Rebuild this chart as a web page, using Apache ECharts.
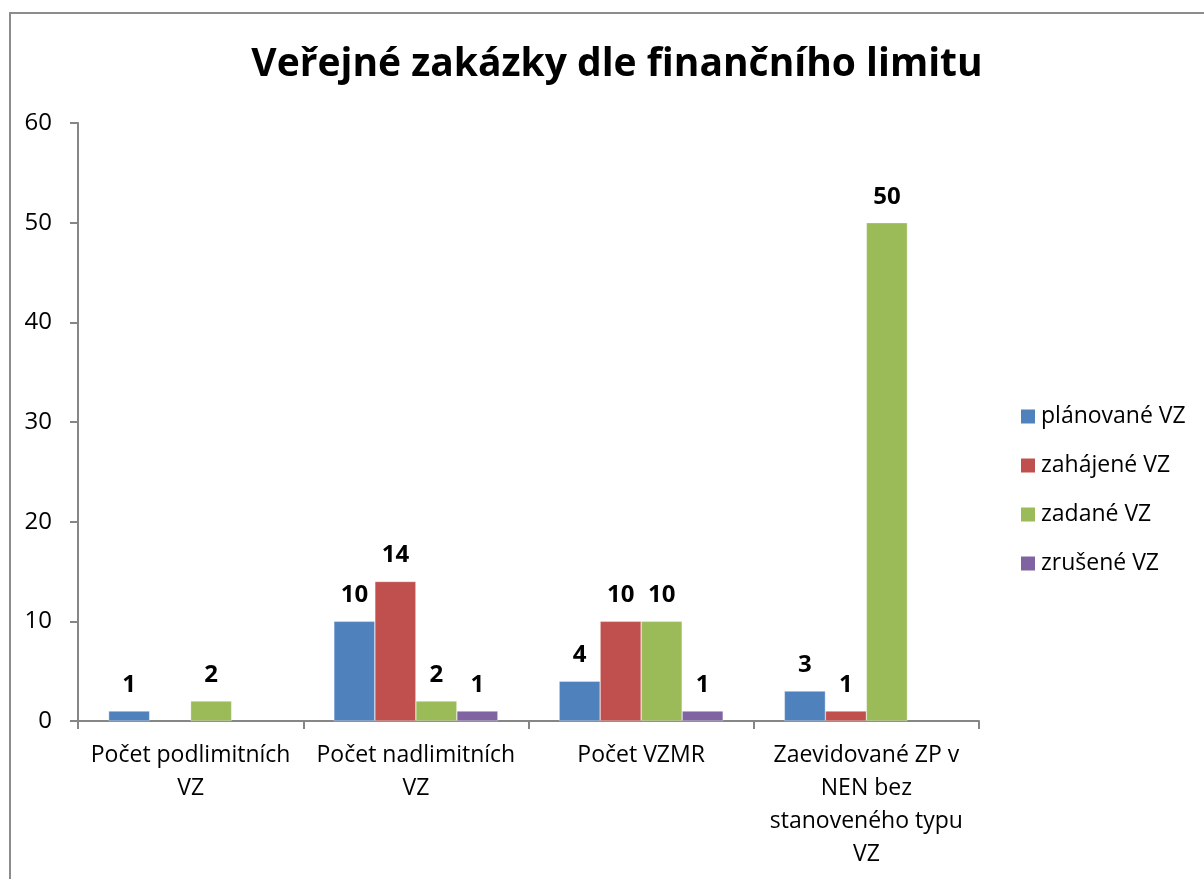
<!DOCTYPE html>
<html>
<head>
<meta charset="utf-8">
<script src="https://cdn.jsdelivr.net/npm/echarts@6/dist/echarts.min.js"></script>
<style>
  html, body { margin: 0; padding: 0; background: #fff; }
  #frame {
    position: absolute; left: 9px; top: 12px;
    width: 1220px; height: 900px;
    border: 2px solid #8c8c8c;
    pointer-events: none;
  }
  #chart { position: absolute; left: 0; top: 0; width: 1204px; height: 879px; }
</style>
</head>
<body>
<div id="frame"></div>
<div id="chart"></div>
<script>
// kategorie (popisky osy x, zalomené jako v originále)
const categories = [
  'Počet podlimitních\nVZ',
  'Počet nadlimitních\nVZ',
  'Počet VZMR',
  'Zaevidované ZP v\nNEN bez\nstanoveného typu\nVZ',
];
const seriesNames = ['plánované VZ', 'zahájené VZ', 'zadané VZ', 'zrušené VZ'];
const planovane = [1, 10, 4, 3];
const zahajene = [null, 14, 10, 1];
const zadane = [2, 2, 10, 50];
const zrusene = [null, 1, 1, null];
const colors = ['#4F81BD', '#C0504D', '#9BBB59', '#8064A2'];

const font = '"Open Sans", "Noto Sans", sans-serif';
const myChart = echarts.init(document.getElementById('chart'));

const series = [planovane, zahajene, zadane, zrusene].map((data, i) => ({
  name: seriesNames[i],
  type: 'bar',
  data,
  barWidth: 41,
  barGap: '0%',
  itemStyle: {
    color: colors[i],
    borderColor: 'rgba(255,255,255,0.7)',
    borderWidth: 0.5,
  },
  label: {
    show: true,
    position: 'top',
    distance: 14,
    color: '#000',
    fontFamily: font,
    fontWeight: 'bold',
    fontSize: 24,
  },
}));

const option = {
  animation: false,
  color: colors,
  title: {
    text: 'Veřejné zakázky dle finančního limitu',
    left: 612,
    top: 40,
    textAlign: 'center',
    textStyle: {
      fontFamily: font,
      fontWeight: 'bold',
      fontSize: 39,
      color: '#000',
    },
  },
  legend: {
    orient: 'vertical',
    left: 1021,
    top: 405,
    padding: 0,
    itemWidth: 14,
    itemHeight: 14,
    itemGap: 26,
    icon: 'rect',
    itemStyle: { borderWidth: 0 },
    textStyle: {
      fontFamily: font,
      fontSize: 23,
      color: '#000',
      padding: [0, 0, 0, 1],
    },
    data: seriesNames,
  },
  grid: {
    left: 78,
    right: 225,
    top: 123,
    bottom: 158,
  },
  xAxis: {
    type: 'category',
    data: categories,
    axisLine: { lineStyle: { color: '#868686', width: 2 } },
    axisTick: { show: true, length: 8, lineStyle: { color: '#868686', width: 2 } },
    axisLabel: {
      fontFamily: font,
      fontSize: 23,
      color: '#000',
      lineHeight: 33,
      margin: 18,
      interval: 0,
    },
  },
  yAxis: {
    type: 'value',
    min: 0,
    max: 60,
    interval: 10,
    splitLine: { show: false },
    axisLine: { show: true, lineStyle: { color: '#868686', width: 2 } },
    axisTick: { show: true, length: 8, lineStyle: { color: '#868686', width: 2 } },
    axisLabel: {
      fontFamily: font,
      fontSize: 24,
      color: '#000',
      margin: 26,
    },
  },
  series,
};

myChart.setOption(option);
</script>
</body>
</html>
